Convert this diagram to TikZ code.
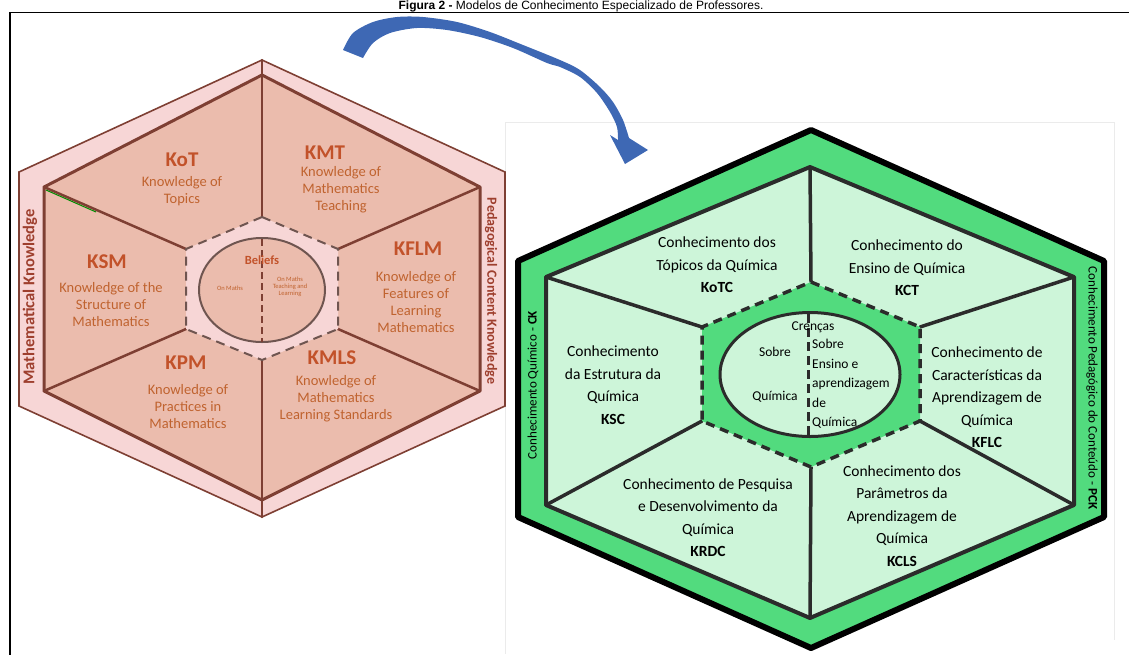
\documentclass[tikz,border=0pt]{standalone}
\usepackage{fontspec}
\setmainfont{Carlito}
\newfontfamily\titlefont{Liberation Sans}
\usetikzlibrary{arrows.meta}
\definecolor{mkline}{HTML}{7E3F33}
\definecolor{mkband}{HTML}{F7D6D6}
\definecolor{mkfill}{HTML}{EBBCAD}
\definecolor{mktext}{HTML}{C0632F}
\definecolor{mkacr}{HTML}{C2522A}
\definecolor{mkside}{HTML}{9E3F2E}
\definecolor{mkdash}{HTML}{6F5550}
\definecolor{qkband}{HTML}{52DB7E}
\definecolor{qkfill}{HTML}{CDF5D9}
\definecolor{qkline}{HTML}{2B2B2B}
\definecolor{arblue}{HTML}{3E68B4}
\tikzset{
  mkt/.style={text=mktext,align=center,inner sep=0pt,font=\fontsize{14.5}{17}\selectfont},
  mka/.style={text=mkacr,inner sep=0pt,font=\fontsize{21}{23}\selectfont\bfseries},
  mks/.style={text=mkside,inner sep=0pt,font=\fontsize{16.5}{18}\selectfont\bfseries},
  mkb/.style={text=mktext,align=center,inner sep=0pt,font=\fontsize{6.5}{7}\selectfont},
  qkt/.style={align=center,inner sep=0pt,font=\fontsize{15.5}{22.5}\selectfont},
  qkc/.style={inner sep=0pt,font=\fontsize{13.5}{19.5}\selectfont},
  qks/.style={inner sep=0pt,font=\fontsize{13}{15}\selectfont},
  spk/.style={line width=#1,line cap=round},
  dsh/.style={line width=#1,dash pattern=on 9pt off 6pt}
}
% six corners of a hexagon: name, centre x/y, half width, top, side, bottom
\newcommand{\hexat}[7]{%
  \coordinate (#1-1) at (#2,#3-#5);
  \coordinate (#1-2) at (#2+#4,#3-#6);
  \coordinate (#1-3) at (#2+#4,#3+#6);
  \coordinate (#1-4) at (#2,#3+#7);
  \coordinate (#1-5) at (#2-#4,#3+#6);
  \coordinate (#1-6) at (#2-#4,#3-#6);}
\newcommand{\hexshape}[2]{\draw[#2] (#1-1) -- (#1-2) -- (#1-3) -- (#1-4) -- (#1-5) -- (#1-6) -- cycle;}

\begin{document}
\begin{tikzpicture}[x=1pt,y=-1pt]
\useasboundingbox (0,0) rectangle (1129,654);
\clip (0,0) rectangle (1129,654);

\node[anchor=base,inner sep=0pt,font=\titlefont\fontsize{12}{14}\selectfont] (title) at (581,9)
  {\textbf{Figura 2 -} Modelos de Conhecimento Especializado de Professores.};
\draw[line width=1.6] (10,12.5) rectangle (1145,670);
\draw[black!8,line width=0.8] (505,654) -- (505,122) -- (1114,122) -- (1114,640);

% MTSK
\hexat{lo}{262}{289}{243}{229}{117}{228}
\hexat{li}{262}{289}{218}{214}{102}{211}
\hexat{lc}{262}{289}{76}{72}{40}{71}
\hexshape{lo}{fill=mkband,draw=mkline,line width=1.6}
\hexshape{li}{fill=mkfill,draw=mkline,line width=3,line join=round}
\draw[mkline,spk=2.5] (lo-1) -- (lc-1);
\draw[mkline,spk=2.5] (lo-4) -- (lc-4);
\foreach \k in {2,3,5,6}
  \draw[mkline,spk=2.5] (li-\k) -- (lc-\k);
\draw[green!55!black,line width=1] (46,190) -- (96,212);
\hexshape{lc}{fill=mkband,draw=mkdash,dsh=2}
\draw[fill=mkfill,draw=mkdash,line width=2] (262,290) ellipse [x radius=63,y radius=52];
\draw[mkline,line width=2.5,dash pattern=on 7pt off 4pt] (262,239) -- (262,342);

\node[mka] (kot) at (182,160) {KoT};
\node[mkt] (kot-d) at (182,191.5) {Knowledge of\\Topics};
\node[mka] (kmt) at (325,153) {KMT};
\node[mkt] (kmt-d) at (341,190) {Knowledge of\\Mathematics\\Teaching};
\node[mka] (ksm) at (107,262) {KSM};
\node[mkt] (ksm-d) at (111,305) {Knowledge of the\\Structure of\\Mathematics};
\node[mka] (kflm) at (418,249) {KFLM};
\node[mkt] (kflm-d) at (416,302) {Knowledge of\\Features of\\Learning\\Mathematics};
\node[mka] (kpm) at (186,363) {KPM};
\node[mkt] (kpm-d) at (188,407) {Knowledge of\\Practices in\\Mathematics};
\node[mka] (kmls) at (332,358) {KMLS};
\node[mkt] (kmls-d) at (336,398.5) {Knowledge of\\Mathematics\\Learning Standards};
\node[text=mkacr,inner sep=0pt,font=\fontsize{12.5}{14}\selectfont\bfseries] (bel) at (262,260) {Beliefs};
\node[mkb] (bel-m) at (230,288) {On Maths};
\node[mkb] (bel-t) at (290,287) {On Maths\\Teaching and\\Learning};
\node[mks,rotate=90] (mk) at (30,297) {Mathematical Knowledge};
\node[mks,rotate=-90,font=\fontsize{14}{15}\selectfont\bfseries] (pck) at (491,291) {Pedagogical Content Knowledge};

% arrow across
\fill[arblue] plot[smooth] coordinates {(343,50) (353,33) (373,22) (397,17) (423,17) (457,22) (490,32) (523,45)
    (560,60) (580,70) (600,87) (613,102) (623,120) (629,138)}
  -- (648,150) -- (625,164) -- (610,135)
  -- plot[smooth] coordinates {(618,140) (617,127) (610,112) (597,93) (580,77) (560,67) (547,63) (513,48)
    (480,37) (447,30) (417,28) (390,33) (373,43) (363,58)} -- cycle;

% chemistry version
\hexat{ro}{811}{389}{293}{259}{128}{259}
\hexat{ri}{810}{391}{264}{224}{114}{227}
\hexat{rc}{811}{374}{109}{92}{47}{93}
\hexshape{ro}{fill=qkband,draw=black,line width=6,line join=round}
\hexshape{ri}{fill=qkfill,draw=qkline,line width=4,line join=round}
\foreach \k in {1,...,6}
  \draw[qkline,spk=3.5] (ri-\k) -- (rc-\k);
\hexshape{rc}{fill=qkband,draw=qkline,dsh=3.5}
\draw[fill=qkfill,draw=qkline,line width=3] (810,374.5) ellipse [x radius=90,y radius=62];
\draw[qkline,line width=3,dash pattern=on 9pt off 5pt] (808,314) -- (808,436);

\node[qkt] (kotc) at (717,265) {Conhecimento dos\\Tópicos da Química\\\textbf{KoTC}};
\node[qkt] (kct) at (907,268) {Conhecimento do\\Ensino de Química\\\textbf{KCT}};
\node[qkt] (ksc) at (613,385) {Conhecimento\\da Estrutura da\\Química\\\textbf{KSC}};
\node[qkt] (kflc) at (987,397.5) {Conhecimento de\\Características da\\Aprendizagem de\\Química\\\textbf{KFLC}};
\node[qkt] (krdc) at (708,517.5) {Conhecimento de Pesquisa\\e Desenvolvimento da\\Química\\\textbf{KRDC}};
\node[qkt] (kcls) at (902,516) {Conhecimento dos\\Parâmetros da\\Aprendizagem de\\Química\\\textbf{KCLS}};
\node[qkc] (cre) at (813,327) {Crenças};
\node[qkc] (cre-s) at (775,352) {Sobre};
\node[qkc] (cre-q) at (775,397) {Química};
\node[qkc,anchor=west,align=left] (cre-e) at (812,384) {Sobre\\Ensino e\\aprendizagem\\de\\Química};
\node[qks,rotate=90] (ck) at (533,385) {Conhecimento Químico - \textbf{CK}};
\node[qks,rotate=-90] (pckq) at (1092,388) {Conhecimento Pedagógico do Conteúdo - \textbf{PCK}};
\end{tikzpicture}
\end{document}
